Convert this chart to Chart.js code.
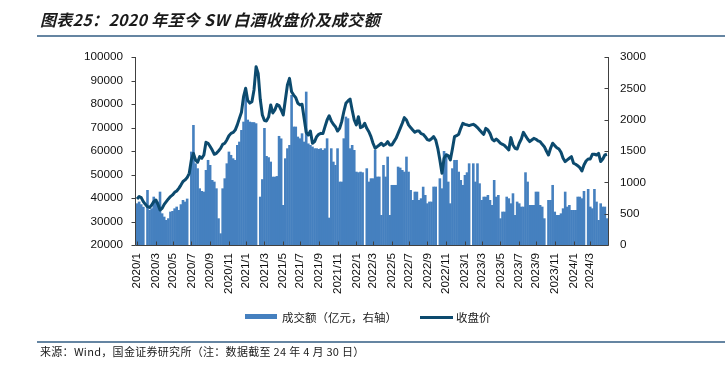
<!DOCTYPE html>
<html>
<head>
<meta charset="utf-8">
<script src="https://cdn.jsdelivr.net/npm/chart.js@4.4.1/dist/chart.umd.min.js"></script>
<style>
  body { margin: 0; background: #fff; }
  #wrap { position: relative; width: 725px; height: 367px; overflow: hidden; font-family: "Noto Sans CJK SC", sans-serif; color: #1a1a1a; }
  #chart { position: absolute; left: 0; top: 0; }
  .title { position: absolute; left: 40px; top: 11px; font-size: 16px; line-height: 16px; font-weight: bold; font-style: italic; white-space: nowrap; letter-spacing: 0.3px; }
  .rule { position: absolute; left: 37px; right: 0; height: 2px; background: #6585a2; }
  .lg { position: absolute; font-size: 11.5px; line-height: 12px; white-space: nowrap; }
  .sw { position: absolute; }
  .source { position: absolute; left: 40px; top: 345px; font-size: 11px; line-height: 12px; white-space: nowrap; letter-spacing: 0.3px; }
</style>
</head>
<body>
<div id="wrap">
  <canvas id="chart" width="725" height="367"></canvas>
  <div class="title">图表25：2020 年至今 SW 白酒收盘价及成交额</div>
  <div class="rule" style="top:35px"></div>
  <div class="sw" style="left:245px;top:314px;width:32px;height:5px;background:#4580bf"></div>
  <div class="lg" style="left:282px;top:311px">成交额（亿元，右轴）</div>
  <div class="sw" style="left:420px;top:316px;width:33px;height:3px;background:#0c4a6e"></div>
  <div class="lg" style="left:456px;top:311px">收盘价</div>
  <div class="rule" style="top:341px"></div>
  <div class="source">来源：Wind，国金证券研究所（注：数据截至 24 年 4 月 30 日）</div>
</div>
<script>
// weekly data, 2020-01-03 .. 2024-04-26
const firstWeek = "2020-01-03";

// SW 白酒 收盘价 (left axis)
const closePrice = [
  39600, 40600, 40150, 38450, 37300, 36300, 36000, 37000, 38450, 39150,
  37300, 34900, 35600, 37300, 38450, 39600, 40600, 41300, 42400, 43000,
  44100, 45500, 47000, 47700, 48700, 50500, 56200, 59000, 56200, 55200,
  57600, 56900, 58300, 63700, 63300, 61900, 60400, 58600, 59000, 60000,
  61100, 62800, 63300, 64700, 66500, 67500, 67900, 68900, 71100, 73900,
  76500, 83100, 86700, 81500, 80400, 81000, 86000, 95900, 93000, 82000,
  75300, 73000, 72800, 74500, 79600, 76200, 77500, 79800, 79300, 77450,
  75300, 81700, 88100, 90900, 85250, 83800, 82700, 80300, 79600, 79900,
  73900, 67950, 66800, 68500, 63300, 64000, 66100, 67100, 67500, 67400,
  70350, 73200, 75000, 72800, 71350, 70350, 68500, 69650, 72500, 76700,
  80300, 81300, 82100, 77450, 73200, 71100, 74600, 69950, 70350, 71800,
  69650, 68200, 66100, 63300, 61150, 61850, 62550, 63300, 62300, 62850,
  64000, 62550, 62550, 64000, 65400, 67500, 69650, 71800, 74200, 73200,
  71100, 69950, 68950, 67950, 68500, 68500, 67400, 67100, 66100, 64850,
  64550, 65200, 66100, 64700, 61150, 56200, 50500, 56900, 58300, 58000,
  56200, 60850, 66100, 66500, 67100, 69650, 71800, 71350, 71100, 70800,
  71100, 71350, 70800, 69950, 68950, 67950, 67100, 69650, 68950, 67500,
  65100, 64300, 65100, 64300, 63300, 62850, 62300, 61400, 60450, 65700,
  62550, 61150, 60850, 63300, 65100, 67950, 66500, 65100, 64000, 64700,
  65400, 65000, 64300, 64000, 62850, 61850, 60000, 58300, 61150, 63300,
  62300, 61400, 60850, 59450, 56900, 55500, 56200, 56900, 57600, 54800,
  54350, 53750, 52950, 51500, 54050, 55750, 56600, 56600, 58600, 58600,
  58300, 59000, 55500, 56600, 58300, 58600
];

// 成交额, 亿元 (right axis)
const turnover = [
  665, 692, 650, 610, 0, 878, 560, 585, 771, 735,
  692, 851, 505, 452, 399, 426, 532, 543, 585, 612,
  559, 650, 718, 692, 740, 0, 1490, 1915, 1303, 1224,
  904, 862, 851, 1197, 1357, 1277, 1037, 1011, 904, 426,
  186, 904, 1064, 1303, 1490, 1437, 1383, 1357, 1596, 1649,
  1835, 1968, 2500, 2000, 1968, 1960, 1960, 1942, 0, 771,
  1050, 1867, 1420, 1400, 1330, 1090, 1090, 1100, 1740, 1700,
  638, 1383, 1543, 1596, 2394, 1889, 1889, 1729, 1702, 1782,
  1649, 2447, 1620, 1596, 1570, 1543, 1543, 1532, 1543, 1516,
  1543, 1702, 436, 1543, 1330, 1277, 1543, 1011, 1011, 1702,
  2048, 2022, 1543, 1596, 1516, 1170, 1160, 1170, 1160, 0,
  1224, 1011, 1064, 1064, 1516, 1091, 1091, 479, 1277, 1091,
  1410, 479, 958, 958, 958, 1250, 1234, 1197, 1170, 1410,
  1170, 878, 718, 851, 851, 718, 745, 930, 798, 665,
  692, 692, 931, 931, 0, 1064, 904, 1500, 1463, 1011,
  665, 1224, 1357, 1357, 1170, 1037, 958, 1117, 1160, 1303,
  0, 1303, 1011, 1303, 984, 718, 771, 771, 798, 718,
  638, 1037, 771, 798, 426, 532, 532, 771, 745, 665,
  825, 479, 692, 665, 612, 612, 1160, 1011, 638, 638,
  638, 851, 851, 638, 612, 426, 0, 718, 718, 958,
  532, 479, 479, 505, 585, 851, 612, 638, 559, 559,
  559, 771, 771, 745, 862, 0, 894, 612, 585, 894,
  692, 399, 665, 612, 612, 426
];

const tickLabels = [
  "2020/1", "2020/3", "2020/5", "2020/7", "2020/9", "2020/11",
  "2021/1", "2021/3", "2021/5", "2021/7", "2021/9", "2021/11",
  "2022/1", "2022/3", "2022/5", "2022/7", "2022/9", "2022/11",
  "2023/1", "2023/3", "2023/5", "2023/7", "2023/9", "2023/11",
  "2024/1", "2024/3"
];

const weeks = [];
const start = new Date(firstWeek + "T00:00:00Z");
for (let i = 0; i < closePrice.length; i++) {
  const d = new Date(start.getTime() + i * 7 * 86400000);
  weeks.push(d.toISOString().slice(0, 10));
}

function monthKey(iso) {
  return iso.slice(0, 4) + "/" + Number(iso.slice(5, 7));
}

const tickIndex = tickLabels.map((lab) => weeks.findIndex((w) => monthKey(w) === lab));

const axisLines = {
  id: "axisLines",
  afterDatasetsDraw(chart) {
    const { ctx, chartArea: a, scales } = chart;
    const L = Math.round(a.left) - 0.5;
    const R = Math.round(a.right) + 0.5;
    const B = Math.round(a.bottom) + 0.5;
    ctx.save();
    ctx.strokeStyle = "#404040";
    ctx.lineWidth = 1;
    ctx.beginPath();
    ctx.moveTo(L, a.top);
    ctx.lineTo(L, B);
    ctx.lineTo(R, B);
    ctx.lineTo(R, a.top);
    scales.y.ticks.forEach((t) => {
      const py = Math.round(scales.y.getPixelForValue(t.value)) + 0.5;
      ctx.moveTo(L - 4, py);
      ctx.lineTo(L, py);
    });
    scales.y1.ticks.forEach((t) => {
      const py = Math.round(scales.y1.getPixelForValue(t.value)) + 0.5;
      ctx.moveTo(R - 4, py);
      ctx.lineTo(R, py);
    });
    scales.x.ticks.forEach((t) => {
      const px = Math.round(scales.x.getPixelForValue(t.value)) + 0.5;
      ctx.moveTo(px, B);
      ctx.lineTo(px, B - 4);
    });
    ctx.stroke();
    ctx.restore();
  }
};

Chart.defaults.font.family = "'Liberation Sans', Arial, sans-serif";
Chart.defaults.color = "#111";

new Chart(document.getElementById("chart"), {
  type: "bar",
  data: {
    labels: weeks,
    datasets: [
      {
        type: "line",
        label: "收盘价",
        data: closePrice,
        yAxisID: "y",
        borderColor: "#0c4a6e",
        borderWidth: 3,
        pointRadius: 0,
        tension: 0,
        borderJoinStyle: "round",
        order: 0
      },
      {
        label: "成交额（亿元，右轴）",
        data: turnover,
        yAxisID: "y1",
        backgroundColor: "#4580bf",
        borderWidth: 0,
        barPercentage: 1.25,
        categoryPercentage: 1,
        order: 1
      }
    ]
  },
  options: {
    responsive: false,
    devicePixelRatio: 1,
    animation: false,
    layout: { padding: { top: 57, left: 0, right: 0, bottom: 0 } },
    plugins: { legend: { display: false }, tooltip: { enabled: false } },
    scales: {
      x: {
        grid: { display: false, drawTicks: false },
        border: { display: false },
        afterBuildTicks: (s) => { s.ticks = tickIndex.map((v) => ({ value: v })); },
        afterFit: (s) => { s.height = 122; },
        ticks: {
          autoSkip: false,
          minRotation: 90,
          maxRotation: 90,
          padding: 8,
          font: { size: 11.6 },
          callback: (v) => monthKey(weeks[v])
        }
      },
      y: {
        position: "left",
        min: 20000,
        max: 100000,
        grid: { display: false, drawTicks: false },
        border: { display: false },
        afterFit: (s) => { s.width = 136; },
        ticks: { stepSize: 10000, padding: 13, font: { size: 11.7 }, callback: (v) => String(v) }
      },
      y1: {
        position: "right",
        min: 0,
        max: 3000,
        grid: { display: false, drawTicks: false },
        border: { display: false },
        afterFit: (s) => { s.width = 117; },
        ticks: { stepSize: 500, padding: 12, font: { size: 11.7 }, callback: (v) => String(v) }
      }
    }
  },
  plugins: [axisLines]
});
</script>
</body>
</html>
